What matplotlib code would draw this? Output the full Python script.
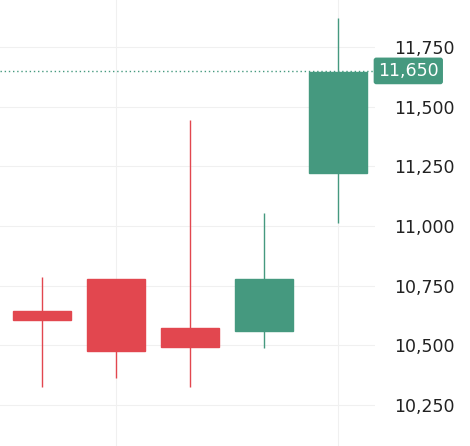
import matplotlib
matplotlib.use("Agg")
import matplotlib.pyplot as plt
from matplotlib.patches import Rectangle

opens  = [10645, 10778, 10573, 10561, 11222]
closes = [10607, 10477, 10494, 10778, 11645]
highs  = [10787, 10778, 11444, 11055, 11871]
lows   = [10326, 10364, 10326, 10490, 11013]
last_price = 11650
yticks = [10250, 10500, 10750, 11000, 11250, 11500, 11750]

UP, DOWN = "#45997f", "#e2474f"
fig = plt.figure(figsize=(4.70, 4.46), dpi=100)
ax = fig.add_axes([0, 0, 375/470, 1])
for i, (o, c, h, l) in enumerate(zip(opens, closes, highs, lows)):
    col = UP if c >= o else DOWN
    ax.vlines(i, l, h, color=col, lw=1, zorder=2)
    ax.add_patch(Rectangle((i - 0.39, min(o, c)), 0.78, max(abs(c - o), 8), color=col, zorder=3))
ax.set_xlim(-0.57, 4.5)
ax.set_ylim(10079, 11947)
for t in yticks:
    ax.axhline(t, color="#f0f0f0", lw=0.8, zorder=0)
for xv in [1, 4]:
    ax.axvline(xv, color="#f0f0f0", lw=0.8, zorder=0)
ax.axhline(last_price, color=UP, lw=1, ls=(0, (1, 2)), zorder=1)
for s in ax.spines.values():
    s.set_visible(False)
ax.set_xticks([])
ax.yaxis.tick_right()
ax.set_yticks(yticks)
ax.set_yticklabels([f"{t:,}" for t in yticks], fontsize=12.5, color="#222222")
ax.tick_params(axis="y", length=0, pad=14)
ax.text(1.0 + 3/375, last_price, f"{last_price:,}", transform=ax.get_yaxis_transform(),
        ha="left", va="center", fontsize=12.5, color="white",
        bbox=dict(boxstyle="round,pad=0.25,rounding_size=0.15", fc=UP, ec="none"))
fig.savefig("out.png", dpi=100)
